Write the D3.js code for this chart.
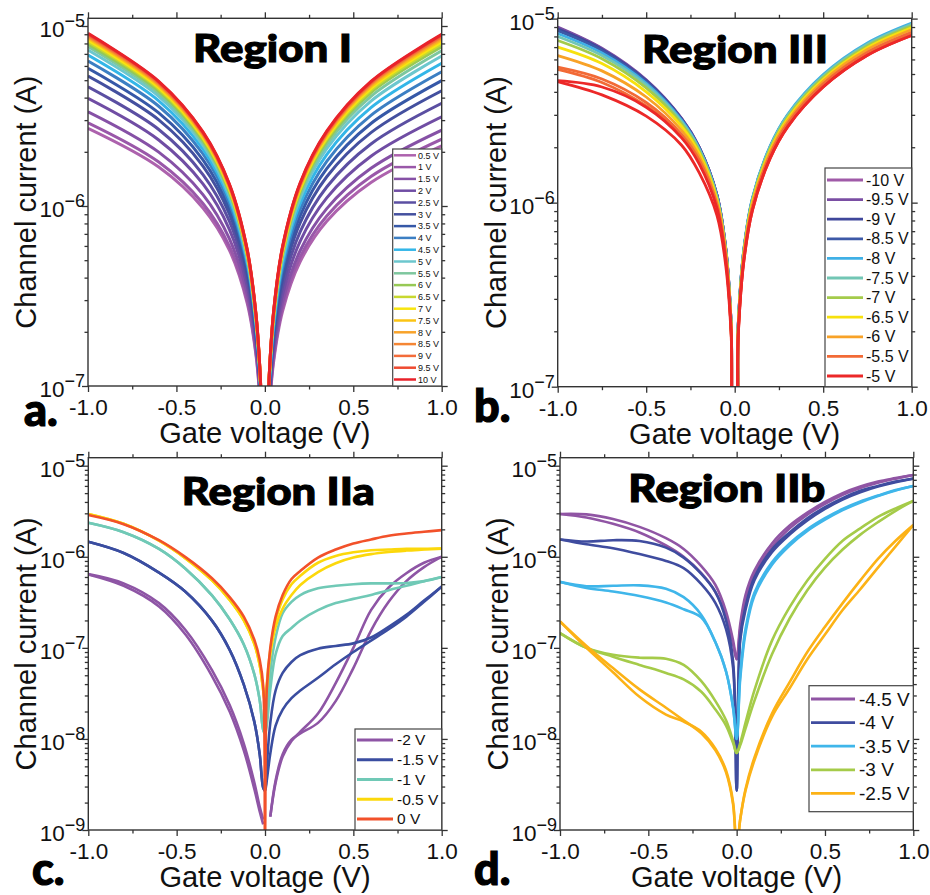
<!DOCTYPE html>
<html><head><meta charset="utf-8">
<script src="https://cdn.jsdelivr.net/npm/d3@7"></script>
<style>body{margin:0;background:#fff}svg{display:block}</style>
</head><body>
<svg id="chart" width="930" height="895"></svg>
<script>
// ---------------- DATA ----------------
// Panel a (Region I): gate voltage grid (V) and channel current in µA
const gateA = [-1,-0.6,-0.35,-0.2,-0.1,-0.05,-0.025,-0.01,0.01,0.025,0.05,0.1,0.2,0.35,0.6,1];
const labelsA = ['0.5 V','1 V','1.5 V','2 V','2.5 V','3 V','3.5 V','4 V','4.5 V','5 V','5.5 V','6 V','6.5 V','7 V','7.5 V','8 V','8.5 V','9 V','9.5 V','10 V'];
const colorsA = ['#ad62ad','#9a58a9','#8651a6','#704da4','#5b4fa2','#44509f','#3658a7','#3c7fc3','#33b6e8','#6cc7ce','#7ec79e','#97c955','#c8d82f','#f8e510','#fbc414','#f8a32a','#f58634','#f36c3a','#ef4a31','#e8222a'];
const currentA = [
 [2.70,1.645,0.975,0.567,0.289,0.148,0.0754,0.031,0.0312,0.0726,0.1373,0.260,0.491,0.822,1.350,2.16],
 [2.90,1.755,1.033,0.596,0.301,0.152,0.0770,0.0313,0.0316,0.0746,0.1426,0.273,0.522,0.880,1.457,2.35],
 [3.34,1.993,1.157,0.657,0.326,0.162,0.0804,0.0318,0.0322,0.0774,0.1504,0.292,0.566,0.967,1.620,2.64],
 [3.96,2.325,1.326,0.740,0.359,0.174,0.0846,0.0326,0.0331,0.0819,0.1624,0.322,0.639,1.110,1.890,3.13],
 [4.60,2.662,1.495,0.821,0.391,0.186,0.0886,0.0332,0.0341,0.0867,0.1757,0.356,0.721,1.276,2.211,3.72],
 [5.27,3.010,1.667,0.902,0.422,0.197,0.0922,0.0338,0.0350,0.0913,0.189,0.391,0.808,1.454,2.558,4.37],
 [5.82,3.292,1.805,0.966,0.446,0.206,0.0950,0.0342,0.0357,0.0953,0.2003,0.421,0.885,1.613,2.874,4.97],
 [6.39,3.583,1.945,1.032,0.470,0.2145,0.0977,0.0346,0.0363,0.0989,0.211,0.450,0.959,1.769,3.188,5.57],
 [6.90,3.839,2.068,1.088,0.491,0.2216,0.100,0.0350,0.0370,0.1025,0.2216,0.479,1.036,1.931,3.518,6.21],
 [7.36,4.070,2.178,1.138,0.509,0.228,0.102,0.0352,0.0375,0.1056,0.231,0.506,1.106,2.081,3.825,6.81],
 [7.68,4.229,2.254,1.172,0.522,0.232,0.1033,0.0354,0.0379,0.108,0.2383,0.526,1.160,2.199,4.069,7.29],
 [7.94,4.358,2.314,1.200,0.531,0.2355,0.1043,0.0356,0.0383,0.1098,0.244,0.542,1.204,2.294,4.266,7.68],
 [8.18,4.478,2.371,1.225,0.541,0.2385,0.1053,0.0357,0.0385,0.111,0.2477,0.5525,1.233,2.356,4.397,7.94],
 [8.36,4.567,2.412,1.243,0.547,0.2408,0.106,0.0358,0.0386,0.112,0.2507,0.561,1.256,2.407,4.502,8.15],
 [8.54,4.656,2.453,1.262,0.554,0.243,0.1067,0.0359,0.0388,0.113,0.2536,0.569,1.278,2.457,4.607,8.36],
 [8.69,4.728,2.488,1.277,0.559,0.245,0.1072,0.036,0.0389,0.1137,0.256,0.5765,1.298,2.500,4.697,8.54],
 [8.79,4.778,2.511,1.287,0.563,0.246,0.1076,0.036,0.039,0.1144,0.258,0.582,1.313,2.534,4.771,8.69],
 [8.91,4.836,2.539,1.299,0.567,0.2476,0.108,0.0361,0.0391,0.1148,0.2594,0.586,1.324,2.558,4.822,8.79],
 [9.03,4.896,2.567,1.312,0.572,0.249,0.1085,0.0362,0.0392,0.1153,0.261,0.591,1.337,2.586,4.881,8.91],
 [9.10,4.929,2.582,1.319,0.574,0.250,0.1088,0.0362,0.0392,0.1156,0.262,0.594,1.346,2.605,4.921,8.99]
];

// Panel b (Region III): current in µA; some series have a second sweep branch
const gateB = [-1,-0.75,-0.5,-0.3,-0.2,-0.1,-0.05,-0.02,-0.005,0.005,0.02,0.05,0.1,0.2,0.3,0.5,0.75,1];
const labelsB = ['-10 V','-9.5 V','-9 V','-8.5 V','-8 V','-7.5 V','-7 V','-6.5 V','-6 V','-5.5 V','-5 V'];
const colorsB = ['#a05aa8','#7a4ea3','#3f479b','#3d59a7','#3fb0e6','#72c6b4','#a4cb4b','#f7e10d','#f8a227','#f26a36','#ec2828'];
const currentB = [
 [[8.9,6.85,4.62,2.86,2.0,1.1,0.56,0.22,0.055,0.054,0.215,0.529,1.03,1.98,2.94,4.83,7.18,9.2]],
 [[9.0,6.9,4.65,2.87,2.0,1.1,0.56,0.22,0.055,0.055,0.216,0.532,1.04,1.99,2.96,4.86,7.22,9.25]],
 [[8.8,6.8,4.6,2.85,1.99,1.1,0.56,0.22,0.055,0.055,0.218,0.535,1.04,2.0,2.98,4.88,7.25,9.3]],
 [[8.6,6.7,4.55,2.83,1.98,1.09,0.555,0.22,0.055,0.055,0.219,0.538,1.05,2.01,2.99,4.91,7.29,9.35]],
 [[8.3,6.5,4.45,2.8,1.96,1.08,0.55,0.22,0.055,0.056,0.221,0.543,1.06,2.03,3.02,4.96,7.37,9.45]],
 [[8.0,6.3,4.35,2.75,1.94,1.07,0.545,0.22,0.055,0.055,0.218,0.535,1.04,2.0,2.98,4.88,7.25,9.3]],
 [[7.6,6.05,4.2,2.68,1.9,1.05,0.54,0.215,0.054,0.054,0.213,0.523,1.02,1.96,2.91,4.78,7.10,9.1]],
 [[7.0,5.7,4.0,2.6,1.85,1.03,0.53,0.21,0.053,0.053,0.208,0.512,1.0,1.91,2.85,4.67,6.94,8.9]],
 [[6.3,5.2,3.75,2.47,1.78,1.0,0.52,0.21,0.052,0.051,0.204,0.500,0.974,1.87,2.78,4.57,6.79,8.7]],
 [[5.3,4.5,3.35,2.3,1.68,0.96,0.5,0.2,0.05,0.050,0.197,0.483,0.941,1.81,2.69,4.41,6.55,8.4],
  [5.45,4.7,3.5,2.35,1.7,0.97,0.5,0.2,0.05,0.050,0.197,0.483,0.941,1.81,2.69,4.41,6.55,8.4]],
 [[4.55,3.85,2.95,2.05,1.45,0.85,0.45,0.19,0.048,0.048,0.190,0.466,0.907,1.74,2.59,4.25,6.32,8.1],
  [4.6,4.25,3.3,2.25,1.62,0.93,0.48,0.2,0.05,0.048,0.190,0.466,0.907,1.74,2.59,4.25,6.32,8.1]]
];

// Panel c (Region IIa): current in A, two sweep branches per bias
const gateC = [-1,-0.8,-0.6,-0.45,-0.3,-0.2,-0.12,-0.06,-0.03,-0.01,0,0.01,0.03,0.06,0.1,0.15,0.2,0.3,0.4,0.5,0.6,0.7,0.8,0.9,1];
const labelsC = ['-2 V','-1.5 V','-1 V','-0.5 V','0 V'];
const colorsC = ['#8e55a5','#3a4da0','#70c9b6','#fcd80b','#f2512a'];
const currentC = [
 [[6.45e-7,5.1e-7,3.1e-7,1.57e-7,5.7e-8,2.35e-8,8.9e-9,3.3e-9,1.8e-9,1.3e-9,null,null,1.4e-9,3.3e-9,6.4e-9,9.5e-9,1.2e-8,1.9e-8,4.1e-8,1.0e-7,2.6e-7,4.6e-7,6.6e-7,8.6e-7,1.0e-6],
  [6.4e-7,4.8e-7,2.85e-7,1.4e-7,4.9e-8,2.0e-8,7.5e-9,2.8e-9,1.6e-9,1.15e-9,null,null,1.4e-9,3.5e-9,6.8e-9,9.8e-9,1.15e-8,1.5e-8,2.6e-8,6.0e-8,1.55e-7,3.2e-7,5.4e-7,7.7e-7,1.0e-6]],
 [[1.46e-6,1.1e-6,6.7e-7,4.13e-7,1.99e-7,9.5e-8,3.94e-8,1.53e-8,6.8e-9,2.9e-9,2.7e-9,5.0e-9,1.5e-8,3.4e-8,5.3e-8,7.0e-8,8.3e-8,9.8e-8,1.05e-7,1.12e-7,1.3e-7,1.7e-7,2.3e-7,3.3e-7,4.7e-7],
  [1.46e-6,1.1e-6,6.7e-7,4.13e-7,1.99e-7,9.5e-8,3.94e-8,1.53e-8,6.8e-9,2.9e-9,2.7e-9,3.5e-9,6.9e-9,1.4e-8,2.1e-8,2.8e-8,3.4e-8,4.7e-8,6.6e-8,9.0e-8,1.2e-7,1.6e-7,2.2e-7,3.2e-7,4.7e-7]],
 [[2.36e-6,1.86e-6,1.22e-6,7.4e-7,3.77e-7,2.06e-7,1.09e-7,5.1e-8,2.67e-8,1.25e-8,1.15e-8,2.0e-8,5.5e-8,1.3e-7,2.4e-7,3.2e-7,3.8e-7,4.5e-7,4.8e-7,5.0e-7,5.1e-7,5.1e-7,5.15e-7,5.4e-7,6.0e-7],
  [2.36e-6,1.86e-6,1.22e-6,7.4e-7,3.77e-7,2.06e-7,1.09e-7,5.1e-8,2.67e-8,1.25e-8,1.15e-8,1.4e-8,3.5e-8,8.5e-8,1.35e-7,1.65e-7,2.0e-7,2.6e-7,3.1e-7,3.45e-7,3.8e-7,4.3e-7,4.8e-7,5.4e-7,6.0e-7]],
 [[2.95e-6,2.3e-6,1.5e-6,9.6e-7,5.5e-7,3.35e-7,2.0e-7,1.1e-7,6.5e-8,3.4e-8,2.5e-8,4.0e-8,9.5e-8,2.0e-7,3.4e-7,5.0e-7,6.2e-7,8.6e-7,1.02e-6,1.12e-6,1.18e-6,1.2e-6,1.22e-6,1.22e-6,1.23e-6],
  [2.95e-6,2.3e-6,1.5e-6,9.6e-7,5.5e-7,3.35e-7,2.0e-7,1.1e-7,6.5e-8,3.4e-8,2.5e-8,3.5e-8,8.5e-8,1.7e-7,2.7e-7,3.8e-7,4.9e-7,6.8e-7,8.5e-7,9.8e-7,1.07e-6,1.13e-6,1.17e-6,1.2e-6,1.23e-6]],
 [[2.87e-6,2.28e-6,1.52e-6,9.9e-7,5.8e-7,3.61e-7,2.2e-7,1.22e-7,7.4e-8,3.8e-8,8e-10,3.5e-8,1.0e-7,2.2e-7,3.8e-7,5.7e-7,7.0e-7,9.8e-7,1.2e-6,1.4e-6,1.55e-6,1.7e-6,1.8e-6,1.88e-6,1.96e-6]]
];

// Panel d (Region IIb): current in A, two sweep branches per bias
const gateD = [-1,-0.85,-0.7,-0.55,-0.4,-0.3,-0.2,-0.12,-0.06,-0.02,0,0.02,0.05,0.1,0.2,0.3,0.4,0.5,0.6,0.7,0.8,0.9,1];
const labelsD = ['-4.5 V','-4 V','-3.5 V','-3 V','-2.5 V'];
const colorsD = ['#9055a4','#3f4c9f','#3fb6ea','#a5cb49','#fcb216'];
const currentD = [
 [[2.95e-6,2.92e-6,2.6e-6,2.13e-6,1.6e-6,1.22e-6,7.9e-7,4.9e-7,2.5e-7,1.2e-7,7.5e-8,1.8e-7,3.8e-7,7.0e-7,1.4e-6,2.2e-6,3.05e-6,4.0e-6,5.0e-6,5.9e-6,6.7e-6,7.3e-6,7.9e-6],
  [2.95e-6,2.7e-6,2.3e-6,1.85e-6,1.33e-6,1.0e-6,6.6e-7,4.1e-7,2.2e-7,1.1e-7,7.5e-8,1.6e-7,3.4e-7,6.3e-7,1.28e-6,2.05e-6,2.9e-6,3.8e-6,4.8e-6,5.7e-6,6.5e-6,7.2e-6,7.9e-6]],
 [[1.55e-6,1.47e-6,1.52e-6,1.49e-6,1.26e-6,9.8e-7,6.5e-7,4.1e-7,2.0e-7,7.0e-8,2.7e-9,1.3e-7,2.8e-7,5.9e-7,1.2e-6,1.85e-6,2.65e-6,3.5e-6,4.4e-6,5.3e-6,6.0e-6,6.7e-6,7.25e-6],
  [1.55e-6,1.37e-6,1.24e-6,1.07e-6,9.0e-7,7.5e-7,5.0e-7,3.1e-7,1.6e-7,6.0e-8,2.7e-9,1.2e-7,2.6e-7,5.5e-7,1.12e-6,1.75e-6,2.5e-6,3.35e-6,4.25e-6,5.1e-6,5.9e-6,6.6e-6,7.2e-6]],
 [[5.3e-7,4.75e-7,4.8e-7,4.85e-7,4.45e-7,3.6e-7,2.3e-7,1.15e-7,5.5e-8,2.2e-8,1.0e-8,5.0e-8,1.6e-7,4.0e-7,8.7e-7,1.4e-6,2.0e-6,2.65e-6,3.35e-6,4.05e-6,4.7e-6,5.4e-6,6.0e-6],
  [5.3e-7,4.55e-7,4.15e-7,3.7e-7,3.15e-7,2.65e-7,2.15e-7,1.15e-7,5.5e-8,2.2e-8,1.0e-8,4.5e-8,1.45e-7,3.7e-7,8.2e-7,1.33e-6,1.92e-6,2.55e-6,3.25e-6,3.95e-6,4.65e-6,5.35e-6,6.0e-6]],
 [[1.45e-7,1.0e-7,8.4e-8,7.8e-8,7.6e-8,6.5e-8,4.3e-8,2.6e-8,1.6e-8,9.5e-9,7.0e-9,9.0e-9,1.5e-8,3.4e-8,1.2e-7,2.8e-7,5.5e-7,9.5e-7,1.5e-6,2.05e-6,2.75e-6,3.4e-6,4.1e-6],
  [1.45e-7,1.0e-7,8.0e-8,6.5e-8,5.3e-8,4.5e-8,3.3e-8,2.1e-8,1.4e-8,9.0e-9,7.0e-9,8.5e-9,1.3e-8,2.6e-8,8.5e-8,2.1e-7,4.3e-7,7.6e-7,1.2e-6,1.75e-6,2.4e-6,3.2e-6,4.1e-6]],
 [[1.95e-7,1.0e-7,5.4e-8,2.9e-8,1.85e-8,1.55e-8,1.2e-8,7.8e-9,4.5e-9,2.0e-9,6e-10,1.3e-9,2.8e-9,6.2e-9,1.9e-8,4.2e-8,9.0e-8,1.7e-7,3.1e-7,5.5e-7,9.5e-7,1.5e-6,2.23e-6],
  [1.95e-7,1.05e-7,6.0e-8,3.5e-8,2.2e-8,1.6e-8,1.15e-8,7.5e-9,4.3e-9,1.9e-9,6e-10,1.3e-9,2.7e-9,5.8e-9,1.75e-8,3.6e-8,7.5e-8,1.4e-7,2.6e-7,4.4e-7,7.6e-7,1.3e-6,2.23e-6]]
];

const xMajor = [-1,-0.5,0,0.5,1];
const xMinor = [-0.75,-0.25,0.25,0.75];
const titles = ['Region I','Region III','Region IIa','Region IIb'];
const letters = ['a.','b.','c.','d.'];
const xTitle = 'Gate voltage (V)';
const yTitle = 'Channel current (A)';

// ---------------- LAYOUT ----------------
const svg = d3.select('#chart');
const defs = svg.append('defs');
const SANS = '"Liberation Sans", Arial, Helvetica, sans-serif';
const BOLD = 'Lato, "DejaVu Sans", sans-serif';
const INK = '#333';

const panels = [
 {id:'a', xs:gateA, data:currentA.map(s=>[s]), labels:labelsA, colors:colorsA, unit:1e-6, lw:3,
  left:88, right:441.7, top:18.3, bottom:386, y5:26, yLo:1e-7,
  title:{x:272.5,y:62,len:159}, letter:{x:24,y:426},
  legend:{x0:392.7,y0:149,x1:441.7,y1:386,first:155.3,step:11.8,lx0:394,lx1:416,tx:418,fs:9,lw:2.5,dy:3.2}},
 {id:'b', xs:gateB, data:currentB, labels:labelsB, colors:colorsB, unit:1e-6, lw:2.8,
  left:557.7, right:911.7, top:18.3, bottom:386.7, y5:18.6, yLo:1e-7,
  title:{x:735,y:63,len:186}, letter:{x:474,y:422},
  legend:{x0:825,y0:168,x1:911.7,y1:386.7,first:180,step:19.6,lx0:827,lx1:863,tx:866,fs:16,lw:2.8,dy:5.6}},
 {id:'c', xs:gateC, data:currentC, labels:labelsC, colors:colorsC, unit:1, lw:2.6,
  left:88.3, right:441.7, top:457.7, bottom:830, y5:465.7, yLo:1e-9,
  title:{x:278.3,y:505,len:193}, letter:{x:32,y:885},
  legend:{x0:355,y0:729,x1:441.7,y1:830,first:740,step:19.75,lx0:357,lx1:393,tx:397,fs:15.5,lw:2.8,dy:5.4}},
 {id:'d', xs:gateD, data:currentD, labels:labelsD, colors:colorsD, unit:1, lw:2.6,
  left:560, right:913.3, top:457.7, bottom:830, y5:465.7, yLo:1e-9,
  title:{x:726.7,y:501.7,len:197}, letter:{x:474,y:885},
  legend:{x0:809,y0:685.7,x1:913.3,y1:811.7,first:699,step:23.6,lx0:811,lx1:855,tx:859,fs:19,lw:2.8,dy:6.6}}
];

panels.forEach((p,pi)=>{
  const g = svg.append('g');
  const x = d3.scaleLinear().domain([-1,1]).range([p.left,p.right]);
  const y = d3.scaleLog().domain([p.yLo,1e-5]).range([p.bottom,p.y5]);

  defs.append('clipPath').attr('id','clip-'+p.id).append('rect')
    .attr('x',p.left).attr('y',p.top).attr('width',p.right-p.left).attr('height',p.bottom-p.top);

  const line = d3.line()
    .defined(d=>d[1]!=null)
    .x(d=>x(d[0])).y(d=>y(d[1]*p.unit))
    .curve(d3.curveCatmullRom.alpha(0.5));
  const lg = g.append('g').attr('clip-path',`url(#clip-${p.id})`);
  p.data.forEach((branches,si)=>{
    branches.forEach(b=>{
      lg.append('path')
        .datum(p.xs.map((xv,j)=>[xv,b[j]]))
        .attr('d',line).attr('fill','none')
        .attr('stroke',p.colors[si]).attr('stroke-width',p.lw)
        .attr('stroke-linejoin','round').attr('stroke-linecap','butt');
    });
  });

  const styleAxis = sel=>{
    sel.select('.domain').remove();
    sel.selectAll('line').attr('stroke',INK).attr('stroke-width',1.3);
  };
  g.append('g').attr('transform',`translate(0,${p.bottom})`)
    .call(d3.axisBottom(x).tickValues(xMajor).tickSize(6).tickPadding(7.5).tickFormat(d=>d.toFixed(1)))
    .call(styleAxis)
    .call(s=>s.selectAll('text').attr('fill','#111').style('font-family',SANS).style('font-size','22.5px'));
  g.append('g').attr('transform',`translate(0,${p.bottom})`)
    .call(d3.axisBottom(x).tickValues(xMinor).tickSize(3.5).tickFormat('')).call(styleAxis);
  g.append('g').attr('transform',`translate(0,${p.top})`)
    .call(d3.axisTop(x).tickValues(xMajor).tickSize(6).tickFormat('')).call(styleAxis);
  g.append('g').attr('transform',`translate(0,${p.top})`)
    .call(d3.axisTop(x).tickValues(xMinor).tickSize(3.5).tickFormat('')).call(styleAxis);

  const yTop = y.invert(p.top);
  const majors = [], minors = [];
  for(let e=Math.round(Math.log10(p.yLo)); e<=-5; e++){
    majors.push(Math.pow(10,e));
    for(let k=2;k<=9;k++){ const v=k*Math.pow(10,e); if(v<=yTop) minors.push(v); }
  }
  [[d3.axisLeft,p.left],[d3.axisRight,p.right]].forEach(([ax,pos])=>{
    g.append('g').attr('transform',`translate(${pos},0)`)
      .call(ax(y).tickValues(majors).tickSize(6).tickFormat('')).call(styleAxis);
    g.append('g').attr('transform',`translate(${pos},0)`)
      .call(ax(y).tickValues(minors).tickSize(3.5).tickFormat('')).call(styleAxis);
  });
  majors.forEach(v=>{
    const e = Math.round(Math.log10(v));
    const t = g.append('text').attr('x',p.left-3).attr('y',y(v)+11)
      .attr('text-anchor','end').attr('fill','#111')
      .style('font-family',SANS).style('font-size','22.5px');
    t.append('tspan').text('10');
    t.append('tspan').attr('dy',-10).style('font-size','18px').text('\u2212'+Math.abs(e));
  });

  g.append('rect').attr('x',p.left).attr('y',p.top)
    .attr('width',p.right-p.left).attr('height',p.bottom-p.top)
    .attr('fill','none').attr('stroke',INK).attr('stroke-width',1.4);

  g.append('text').attr('x',(p.left+p.right)/2).attr('y',p.bottom+57)
    .attr('text-anchor','middle').attr('fill','#111')
    .style('font-family',SANS).style('font-size','29px').text(xTitle);
  g.append('text')
    .attr('transform',`translate(${p.left-52},${(p.top+p.bottom)/2}) rotate(-90)`)
    .attr('text-anchor','middle').attr('fill','#111')
    .style('font-family',SANS).style('font-size','29px').text(yTitle);

  g.append('text').attr('x',p.title.x).attr('y',p.title.y)
    .attr('text-anchor','middle').attr('fill','#000')
    .attr('stroke','#000').attr('stroke-width',1.1)
    .attr('textLength',p.title.len).attr('lengthAdjust','spacingAndGlyphs')
    .style('font-family',BOLD).style('font-weight',900).style('font-size','38px')
    .text(titles[pi]);

  g.append('text').attr('x',p.letter.x).attr('y',p.letter.y).attr('fill','#000')
    .attr('stroke','#000').attr('stroke-width',1.2)
    .style('font-family',BOLD).style('font-weight',900).style('font-size','45px')
    .text(letters[pi]);

  const L = p.legend;
  const leg = g.append('g');
  leg.append('rect').attr('x',L.x0).attr('y',L.y0).attr('width',L.x1-L.x0).attr('height',L.y1-L.y0)
    .attr('fill','#fff').attr('stroke','#444').attr('stroke-width',1.2);
  p.labels.forEach((lab,i)=>{
    const yy = L.first + i*L.step;
    leg.append('line').attr('x1',L.lx0).attr('x2',L.lx1).attr('y1',yy).attr('y2',yy)
      .attr('stroke',p.colors[i]).attr('stroke-width',L.lw);
    leg.append('text').attr('x',L.tx).attr('y',yy+L.dy).attr('fill','#111')
      .style('font-family',SANS).style('font-size',L.fs+'px').text(lab);
  });
});
</script>
</body></html>
